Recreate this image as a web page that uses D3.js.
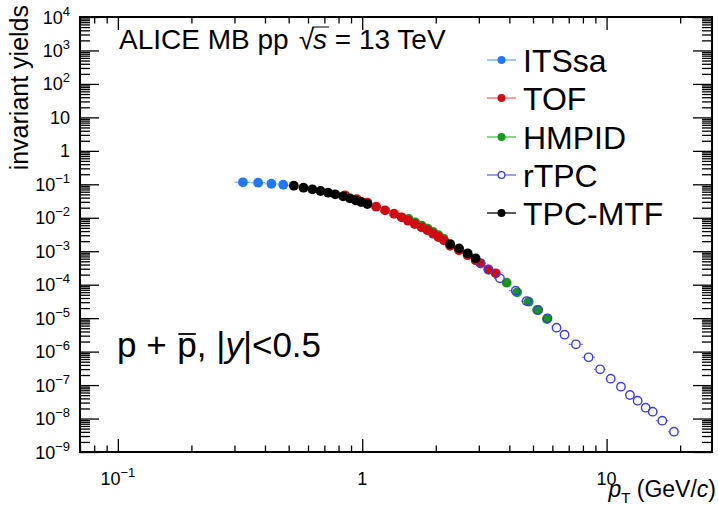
<!DOCTYPE html>
<html>
<head>
<meta charset="utf-8">
<script src="https://cdn.jsdelivr.net/npm/d3@7"></script>
<style>
  body { margin: 0; background: #fff; }
  svg { display: block; }
  text { font-family: "Liberation Sans", Arial, Helvetica, sans-serif; fill: #000; white-space: pre; }
</style>
</head>
<body>
<svg id="chart" width="718" height="505"></svg>
<script>
// ---- data: proton + antiproton invariant yields vs pT (GeV/c) ----
const seriesNames = ["ITSsa", "TOF", "HMPID", "rTPC", "TPC-MTF"];

const itssaPt    = [0.325, 0.375, 0.425, 0.475];
const itssaYield = [0.115, 0.112, 0.104, 0.097];
const itssaErr   = [0.025, 0.025, 0.025, 0.025];

const tofPt    = [0.85, 0.95, 1.05, 1.14, 1.24, 1.35, 1.45, 1.54, 1.64, 1.75, 1.85, 1.95, 2.05, 2.16,
                  2.29, 2.49, 2.70, 2.91, 3.05, 3.28, 3.52];
const tofYield = [0.0470, 0.0362, 0.0285, 0.0214, 0.0167, 0.0132, 0.0103, 0.00817, 0.00651, 0.00519,
                  0.00422, 0.00334, 0.00266, 0.00212, 1.45e-3, 1.07e-3, 7.6e-4, 5.4e-4, 4.35e-4,
                  2.88e-4, 2.19e-4];
const tofErr   = [0.05, 0.05, 0.05, 0.05, 0.05, 0.05, 0.05, 0.05, 0.05, 0.05, 0.05, 0.05, 0.05, 0.05,
                  0.1, 0.1, 0.1, 0.1, 0.1, 0.12, 0.12];

const hmpidPt    = [1.55, 1.65, 1.75, 1.85, 1.95, 2.05, 2.15, 3.9, 4.3, 4.8, 5.2, 5.7];
const hmpidYield = [9.2e-3, 7.3e-3, 5.85e-3, 4.75e-3, 3.75e-3, 3.0e-3, 2.38e-3,
                    1.146e-4, 5.9e-5, 3.10e-5, 1.75e-5, 9.42e-6];
const hmpidErr   = [0.05, 0.05, 0.05, 0.05, 0.05, 0.05, 0.05, 0.1, 0.2, 0.25, 0.25, 0.25];

const rtpcPt    = [3.05, 3.29, 3.66, 4.25, 4.71, 5.25, 5.73, 6.24, 6.73, 7.49, 8.44, 9.41,
                   10.4, 11.45, 12.46, 13.4, 14.45, 15.44, 16.9, 18.87];
const rtpcYield = [4.35e-4, 2.80e-4, 1.55e-4, 6.61e-5, 3.25e-5, 1.75e-5, 9.89e-6, 5.18e-6,
                   3.20e-6, 1.65e-6, 6.76e-7, 2.96e-7, 1.55e-7, 8.93e-8, 5.05e-8, 3.41e-8,
                   2.11e-8, 1.60e-8, 8.61e-9, 4.04e-9];
const rtpcErr   = [0.1, 0.1, 0.2, 0.25, 0.25, 0.25, 0.25, 0.25, 0.25, 0.5, 0.5, 0.5,
                   0.5, 0.5, 0.5, 0.5, 0.5, 0.5, 1.0, 1.0];

const mtfPt    = [0.525, 0.575, 0.625, 0.675, 0.725, 0.775, 0.835, 0.89, 0.94, 0.99, 1.05,
                  2.29, 2.49, 2.70, 2.91];
const mtfYield = [0.0908, 0.0791, 0.0709, 0.0631, 0.0561, 0.0502, 0.0438, 0.0382, 0.0333,
                  0.0296, 0.0258, 1.64e-3, 1.22e-3, 8.67e-4, 6.14e-4];
const mtfErr   = [0.025, 0.025, 0.025, 0.025, 0.025, 0.025, 0.025, 0.025, 0.025, 0.025, 0.025,
                  0.1, 0.1, 0.1, 0.1];

// axis ranges and labelled decades
const xDomain = [0.07, 27];
const yDomain = [1e-9, 1e4];
const xLabelExps = [-1, 0, 1];
const yLabelExps = [4, 3, 2, 1, 0, -1, -2, -3, -4, -5, -6, -7, -8, -9];

// ---- styles ----
const styles = {
  "ITSsa":   { fill: "#1f78ff", stroke: "#1f78ff", line: "#6fa8ff", open: false },
  "TOF":     { fill: "#d00c12", stroke: "#d00c12", line: "#e86a6a", open: false },
  "HMPID":   { fill: "#16991a", stroke: "#16991a", line: "#4cbf4c", open: false },
  "rTPC":    { fill: "none",    stroke: "#3c3ce0", line: "#6a6ae6", open: true },
  "TPC-MTF": { fill: "#000",    stroke: "#000",    line: "#000",    open: false }
};

const series = [
  { name: "ITSsa",   pt: itssaPt, y: itssaYield, e: itssaErr },
  { name: "HMPID",   pt: hmpidPt, y: hmpidYield, e: hmpidErr },
  { name: "TOF",     pt: tofPt,   y: tofYield,   e: tofErr },
  { name: "rTPC",    pt: rtpcPt,  y: rtpcYield,  e: rtpcErr },
  { name: "TPC-MTF", pt: mtfPt,   y: mtfYield,   e: mtfErr }
];

const svg = d3.select("#chart");
const frame = { left: 80, right: 712, top: 17, bottom: 452 };

const x = d3.scaleLog().domain(xDomain).range([frame.left, frame.right]);
const y = d3.scaleLog().domain(yDomain).range([frame.bottom, frame.top]);

// major / minor tick values per decade
function decadeTicks(domain) {
  const lo = Math.floor(Math.log10(domain[0])), hi = Math.ceil(Math.log10(domain[1]));
  const major = [], minor = [];
  for (let e = lo; e <= hi; e++) {
    for (let k = 1; k <= 9; k++) {
      const v = k * Math.pow(10, e);
      if (v < domain[0] * 0.9999 || v > domain[1] * 1.0001) continue;
      (k === 1 ? major : minor).push(v);
    }
  }
  return { major, minor };
}
const xt = decadeTicks(xDomain), yt = decadeTicks(yDomain);

// ---- ticks (pointing into the frame on all four sides) ----
function tickGroup(axis, transform) {
  const g = svg.append("g").attr("transform", transform).call(axis);
  g.select(".domain").remove();
  g.selectAll("line").attr("stroke", "#000").attr("stroke-width", 1.3);
  g.selectAll("text").remove();
}
const XMAJ = 13, XMIN = 6.5, YMAJ = 19, YMIN = 10;
tickGroup(d3.axisTop(x).tickValues(xt.major).tickSize(XMAJ), `translate(0,${frame.bottom})`);
tickGroup(d3.axisTop(x).tickValues(xt.minor).tickSize(XMIN), `translate(0,${frame.bottom})`);
tickGroup(d3.axisBottom(x).tickValues(xt.major).tickSize(XMAJ), `translate(0,${frame.top})`);
tickGroup(d3.axisBottom(x).tickValues(xt.minor).tickSize(XMIN), `translate(0,${frame.top})`);
tickGroup(d3.axisRight(y).tickValues(yt.major).tickSize(YMAJ), `translate(${frame.left},0)`);
tickGroup(d3.axisRight(y).tickValues(yt.minor).tickSize(YMIN), `translate(${frame.left},0)`);
tickGroup(d3.axisLeft(y).tickValues(yt.major).tickSize(YMAJ), `translate(${frame.right},0)`);
tickGroup(d3.axisLeft(y).tickValues(yt.minor).tickSize(YMIN), `translate(${frame.right},0)`);

svg.append("rect")
  .attr("x", frame.left).attr("y", frame.top)
  .attr("width", frame.right - frame.left).attr("height", frame.bottom - frame.top)
  .attr("fill", "none").attr("stroke", "#000").attr("stroke-width", 2);

// ---- tick labels: 10, 1 and 10^n ----
function powerLabel(sel, e) {
  if (e === 0) { sel.append("tspan").text("1"); return; }
  if (e === 1) { sel.append("tspan").text("10"); return; }
  sel.append("tspan").text("10");
  sel.append("tspan").attr("dy", -8).attr("font-size", 13)
    .text(e < 0 ? "\u2212" + (-e) : String(e));
}
yLabelExps.forEach(e => {
  const t = svg.append("text").attr("x", 70).attr("y", y(Math.pow(10, e)) + 6.5)
    .attr("text-anchor", "end").attr("font-size", 18);
  powerLabel(t, e);
});
xLabelExps.forEach(e => {
  const t = svg.append("text").attr("x", x(Math.pow(10, e))).attr("y", 485)
    .attr("text-anchor", "middle").attr("font-size", 18);
  powerLabel(t, e);
});

// ---- axis titles ----
svg.append("text")
  .attr("transform", `translate(28,5) rotate(-90)`)
  .attr("text-anchor", "end").attr("font-size", 25)
  .text("invariant yields");

const xt1 = svg.append("text").attr("x", 716).attr("y", 497).attr("text-anchor", "end").attr("font-size", 23);
xt1.append("tspan").attr("font-style", "italic").text("p");
xt1.append("tspan").attr("font-size", 15).attr("dy", 6).text("T");
xt1.append("tspan").attr("dy", -6).text(" (GeV/");
xt1.append("tspan").attr("font-style", "italic").text("c");
xt1.append("tspan").text(")");

// ---- markers with horizontal (bin-width) bars outside the marker ----
const R = 4.9;
series.forEach(s => {
  const st = styles[s.name];
  const pts = s.pt.map((p, i) => ({ px: x(p), py: y(s.y[i]), lo: x(p - s.e[i]), hi: x(p + s.e[i]) }));
  const g = svg.append("g");
  pts.forEach(d => {
    if (d.px - R > d.lo) g.append("line").attr("x1", d.lo).attr("x2", d.px - R)
      .attr("y1", d.py).attr("y2", d.py).attr("stroke", st.line).attr("stroke-width", 1.2);
    if (d.hi > d.px + R) g.append("line").attr("x1", d.px + R).attr("x2", d.hi)
      .attr("y1", d.py).attr("y2", d.py).attr("stroke", st.line).attr("stroke-width", 1.2);
  });
  g.selectAll("circle").data(pts).join("circle")
    .attr("cx", d => d.px).attr("cy", d => d.py)
    .attr("r", st.open ? R - 0.7 : R)
    .attr("fill", st.fill)
    .attr("stroke", st.open ? st.stroke : "none")
    .attr("stroke-width", st.open ? 1.4 : 0);
});

// ---- legend ----
const legendRows = [60, 98, 137, 175, 213];
seriesNames.forEach((name, i) => {
  const st = styles[name];
  const cy = legendRows[i];
  svg.append("line").attr("x1", 487).attr("x2", 516).attr("y1", cy).attr("y2", cy)
    .attr("stroke", st.line).attr("stroke-width", 1.3);
  svg.append("circle").attr("cx", 501.5).attr("cy", cy).attr("r", st.open ? 3.4 : 4)
    .attr("fill", st.open ? "#fff" : st.fill)
    .attr("stroke", st.open ? st.stroke : "none").attr("stroke-width", 1.3);
  svg.append("text").attr("x", 523).attr("y", cy + 11.5).attr("font-size", 32).text(name);
});

// ---- annotations ----
function runText(x0, yb, size, parts) {
  let cx = x0;
  const out = [];
  parts.forEach(p => {
    const t = svg.append("text").attr("x", cx).attr("y", yb).attr("font-size", p.size || size)
      .attr("font-style", p.italic ? "italic" : null).text(p.text);
    const w = t.node().getComputedTextLength();
    out.push({ node: t, x: cx, w });
    cx += w + (p.gap || 0);
  });
  return out;
}
const title = runText(119, 49, 28, [
  { text: "ALICE MB pp", gap: 10 },
  { text: "\u221A", gap: -1 },
  { text: "s", italic: true, gap: 0 },
  { text: " = 13 TeV" }
]);
// overbar of the square root
const sqrtPart = title[1], sPart = title[2];
svg.append("line")
  .attr("x1", sqrtPart.x + sqrtPart.w - 1.5).attr("x2", sPart.x + sPart.w + 2)
  .attr("y1", 49 - 22).attr("y2", 49 - 22).attr("stroke", "#000").attr("stroke-width", 1);

const sys = runText(117, 357, 35, [
  { text: "p + ", gap: 1 },
  { text: "p", gap: 0 },
  { text: ", |", gap: 0 },
  { text: "y", italic: true, gap: 0 },
  { text: "|<0.5" }
]);
// antiproton bar
svg.append("line")
  .attr("x1", sys[1].x + 1).attr("x2", sys[1].x + sys[1].w - 1)
  .attr("y1", 357 - 23).attr("y2", 357 - 23).attr("stroke", "#000").attr("stroke-width", 1.8);
</script>
</body>
</html>
